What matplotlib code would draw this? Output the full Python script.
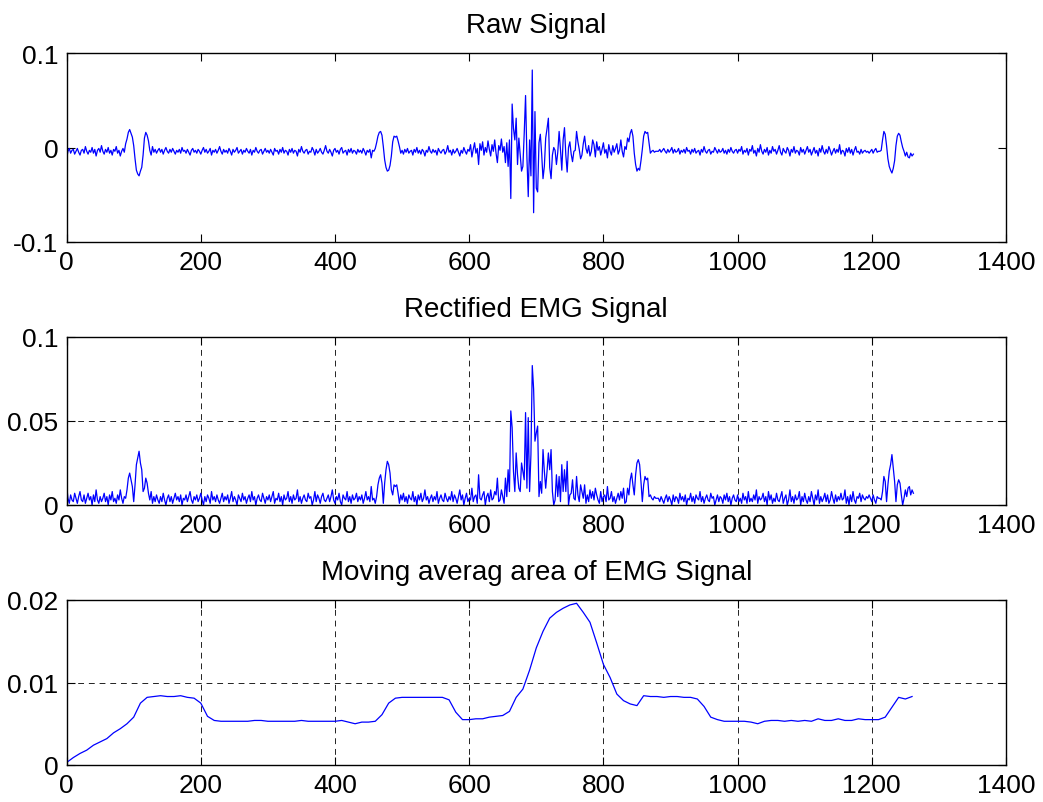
import matplotlib
matplotlib.use('Agg')
import matplotlib.pyplot as plt
import numpy as np

plt.rcParams['font.family'] = ['Liberation Sans', 'DejaVu Sans']
plt.rcParams['axes.unicode_minus'] = False

# raw EMG, one value every 2 samples, in units of 1e-3
RAW = [
    -12, -4, -1, -6, -3, -2, -7, -4, -1, -5, -8, -3, -2, -6, 1, -4, -7, -3, -5, 0, -6, -2, -9, -3, -1,
    -5, 2, -4, -7, -2, -5, 0, -6, -3, -8, -2, -4, 1, -6, -3, -9, -4, -1, -5, 4, 9, 16, 19, 15, 11,
    2, -12, -24, -28, -30, -25, -21, -8, 10, 16, 13, 7, -3, -8, 1, -5, -2, -6, -3, -1, -5, -2, -7, -3, 0,
    -4, -6, -2, -5, -1, -4, -7, -3, -5, -2, -6, 0, -4, -3, -6, -2, -5, -8, -3, -1, -5, -3, -6, -2, -4,
    -7, -3, 0, -5, -2, -6, -4, -1, -8, -3, -5, -2, -6, -3, 1, -4, -7, -2, -5, -3, -6, -1, -4, -8, -2,
    -5, -3, 0, -6, -4, -2, -7, -3, -5, -1, -4, -6, -2, -8, -3, -5, 0, -4, -6, -3, -2, -7, -4, -1, -5,
    -3, -6, -2, -5, -8, -1, -4, -3, -7, -2, -5, 0, -6, -3, -4, -8, -2, -5, -1, -6, -3, -4, -9, -2, -5,
    1, -4, -6, -3, -2, -7, -4, -5, 0, -3, -8, -2, -6, -4, -1, -5, -7, -3, 2, -4, -6, -2, -5, -9, -3,
    -1, -5, -3, -7, -2, 0, -6, -4, -3, -8, -2, -5, -1, -6, -3, -4, -7, -2, -5, -3, -6, -1, -4, -8, -3,
    -5, -2, -11, -3, -4, -1, 5, 12, 16, 17, 13, 1, -13, -21, -25, -24, -19, -9, 6, 12, 11, 12, 7, 1, -6,
    -3, -7, -2, -5, -1, -6, -4, -3, -8, -2, -5, 0, -6, -3, -7, -2, -4, -9, -3, -5, 1, -4, -6, -2, -5,
    -3, -8, -1, -4, -6, -3, -2, -7, -4, 2, -5, -3, -8, -2, -6, -4, -1, -5, -9, -3, -6, 0, -4, -7, -2,
    -4, 3, -10, -2, 5, -6, -1, -18, 4, -3, 6, -8, 0, -5, 7, -2, -9, 3, -4, 8, -6, -16, 2, -3, 9,
    -5, 1, -16, 5, -20, 8, -54, 46, 20, 8, 31, -18, 10, -8, -25, -20, 15, 55, -10, -52, 8, -30, 82, -69, 38,
    -43, -47, 5, 14, -7, -33, -20, 10, 20, 31, -21, -33, -8, 0, -3, -18, -5, 17, -2, -24, 8, 21, -8, -26, 0,
    6, -7, -15, -4, -3, 17, 6, -2, -12, -8, 4, 12, -1, -6, 2, -9, -4, 8, 3, -10, 6, -3, 1, -8, -2,
    5, -6, -2, -11, 3, -4, -8, 2, -5, -1, 4, -7, -3, 8, -4, -10, 1, -2, 10, 6, 15, 19, 12, -6, -18,
    -25, -22, -24, -14, -2, 12, 17, 15, 16, 5, -6, -4, -3, -5, -4, -4, -4, -2, -5, -3, -1, -4, -6, -2, -5,
    -3, 0, -6, -2, -5, -4, -1, -7, -3, -5, -2, -6, 0, -4, -3, -7, -2, -5, -1, -6, -4, -3, -8, -2, -5,
    1, -4, -6, -3, -2, -7, -4, -5, 0, -3, -6, -2, -5, -4, -1, -6, -3, -7, -2, -5, 0, -4, -6, -3, -2,
    -6, -2, -4, 1, -7, -3, -5, -1, -8, -2, -4, 2, -6, -3, -9, -1, -5, 3, -4, -7, -2, -5, 0, -8, -3,
    -6, 1, -4, -2, -7, -3, 2, -5, -8, -1, -4, -6, 0, -3, -9, -2, -5, 1, -6, -3, -4, -8, 0, -5, -2,
    -7, -3, 1, -5, -2, -8, -4, 0, -6, -3, -9, -1, -5, 2, -4, -7, -2, -6, 1, -3, -8, -4, -1, -6, -2,
    -5, 3, -7, -3, -4, -9, -1, -5, 0, -6, -2, -8, -3, 1, -5, -4, -7, -2, -6, -4, -3, -5, -4, -6, -4,
    -2, -6, -3, -1, -5, -4, -4, -3, 8, 17, 14, 2, -12, -20, -24, -27, -22, -14, 2, 12, 15, 13, 6, 0, -4,
    -9, -5, -10, -11, -6, -9, -7,
]

# rectified EMG, same sampling, units of 1e-3
RECT = [
    12, 4, 1, 6, 3, 2, 7, 4, 1, 5, 8, 3, 2, 6, 1, 4, 7, 3, 5, 0, 6, 2, 9, 3, 1,
    5, 2, 4, 7, 2, 5, 0, 6, 3, 8, 2, 4, 1, 6, 3, 9, 4, 1, 5, 4, 9, 16, 19, 15, 11,
    2, 12, 24, 28, 32, 25, 21, 8, 10, 16, 13, 7, 3, 8, 1, 5, 2, 6, 3, 1, 5, 2, 7, 3, 0,
    4, 6, 2, 5, 1, 4, 7, 3, 5, 2, 6, 0, 4, 3, 6, 2, 5, 8, 3, 1, 5, 3, 6, 2, 4,
    7, 3, 0, 5, 2, 6, 4, 1, 8, 3, 5, 2, 6, 3, 1, 4, 7, 2, 5, 3, 6, 1, 4, 8, 2,
    5, 3, 0, 6, 4, 2, 7, 3, 5, 1, 4, 6, 2, 8, 3, 5, 0, 4, 6, 3, 2, 7, 4, 1, 5,
    3, 6, 2, 5, 8, 1, 4, 3, 7, 2, 5, 0, 6, 3, 4, 8, 2, 5, 1, 6, 3, 4, 9, 2, 5,
    1, 4, 6, 3, 2, 7, 4, 5, 0, 3, 8, 2, 6, 4, 1, 5, 7, 3, 2, 4, 6, 2, 5, 9, 3,
    1, 5, 3, 7, 2, 0, 6, 4, 3, 8, 2, 5, 1, 6, 3, 4, 7, 2, 5, 3, 6, 1, 4, 8, 3,
    5, 2, 11, 3, 4, 1, 5, 12, 16, 18, 13, 1, 13, 21, 26, 24, 19, 9, 6, 12, 11, 12, 7, 1, 6,
    3, 7, 2, 5, 1, 6, 4, 3, 8, 2, 5, 0, 6, 3, 7, 2, 4, 9, 3, 5, 1, 4, 6, 2, 5,
    3, 8, 1, 4, 6, 3, 2, 7, 4, 2, 5, 3, 8, 2, 6, 4, 1, 5, 9, 3, 6, 0, 4, 7, 2,
    4, 3, 10, 2, 5, 6, 1, 18, 4, 3, 6, 8, 0, 5, 7, 2, 9, 3, 4, 8, 6, 16, 2, 3, 9,
    5, 1, 16, 5, 21, 8, 56, 46, 20, 8, 31, 18, 10, 8, 25, 20, 15, 55, 10, 52, 8, 30, 83, 69, 38,
    43, 47, 5, 14, 7, 33, 20, 10, 20, 31, 21, 33, 8, 0, 3, 18, 5, 17, 2, 24, 8, 21, 8, 26, 0,
    6, 7, 15, 4, 3, 17, 6, 2, 12, 8, 4, 12, 1, 6, 2, 9, 4, 8, 3, 10, 6, 3, 1, 8, 2,
    5, 6, 2, 11, 3, 4, 8, 2, 5, 1, 4, 7, 3, 8, 4, 10, 1, 2, 10, 6, 15, 19, 12, 6, 18,
    25, 27, 24, 14, 2, 12, 17, 15, 16, 5, 6, 4, 3, 5, 4, 4, 4, 2, 5, 3, 1, 4, 6, 2, 5,
    3, 0, 6, 2, 5, 4, 1, 7, 3, 5, 2, 6, 0, 4, 3, 7, 2, 5, 1, 6, 4, 3, 8, 2, 5,
    1, 4, 6, 3, 2, 7, 4, 5, 0, 3, 6, 2, 5, 4, 1, 6, 3, 7, 2, 5, 0, 4, 6, 3, 2,
    6, 2, 4, 1, 7, 3, 5, 1, 8, 2, 4, 2, 6, 3, 9, 1, 5, 3, 4, 7, 2, 5, 0, 8, 3,
    6, 1, 4, 2, 7, 3, 2, 5, 8, 1, 4, 6, 0, 3, 9, 2, 5, 1, 6, 3, 4, 8, 0, 5, 2,
    7, 3, 1, 5, 2, 8, 4, 0, 6, 3, 9, 1, 5, 2, 4, 7, 2, 6, 1, 3, 8, 4, 1, 6, 2,
    5, 3, 7, 3, 4, 9, 1, 5, 0, 6, 2, 8, 3, 1, 5, 4, 7, 2, 6, 4, 3, 5, 4, 6, 4,
    2, 6, 3, 1, 5, 4, 4, 3, 8, 17, 14, 2, 12, 20, 24, 30, 22, 14, 2, 12, 15, 13, 6, 0, 4,
    9, 5, 10, 11, 6, 9, 7,
]
RAW_STEP = 2

# moving average area, one value every 10 samples, units of 1e-3
MAVG = [
    0.3, 0.9, 1.4, 1.8, 2.4, 2.8, 3.2, 3.9, 4.4, 5.0, 5.8, 7.5, 8.2, 8.3, 8.4, 8.3, 8.3, 8.4, 8.2, 8.1,
    7.5, 5.9, 5.4, 5.3, 5.3, 5.3, 5.3, 5.3, 5.4, 5.4, 5.3, 5.3, 5.3, 5.3, 5.3, 5.4, 5.3, 5.3, 5.3, 5.3,
    5.3, 5.4, 5.2, 5.0, 5.2, 5.2, 5.3, 6.1, 7.5, 8.1, 8.2, 8.2, 8.2, 8.2, 8.2, 8.2, 8.2, 7.9, 6.4, 5.5,
    5.5, 5.6, 5.6, 5.8, 5.9, 6.0, 6.5, 8.2, 9.2, 11.5, 14.2, 16.2, 17.8, 18.5, 19.0, 19.4, 19.6, 18.5, 17.3, 14.8,
    12.2, 10.6, 8.6, 7.8, 7.4, 7.2, 8.4, 8.3, 8.3, 8.2, 8.3, 8.3, 8.2, 8.2, 8.0, 7.1, 5.8, 5.5, 5.3, 5.3,
    5.3, 5.3, 5.2, 5.0, 5.3, 5.4, 5.4, 5.3, 5.4, 5.3, 5.4, 5.3, 5.6, 5.4, 5.4, 5.6, 5.4, 5.4, 5.6, 5.5,
    5.5, 5.5, 5.8, 7.0, 8.2, 8.0, 8.3,
]
MAVG_STEP = 10

TITLES = ['Raw Signal', 'Rectified EMG Signal', 'Moving averag area of EMG Signal']
XTICKS = [0, 200, 400, 600, 800, 1000, 1200, 1400]
YTICKS = [[-0.1, 0, 0.1], [0, 0.05, 0.1], [0, 0.01, 0.02]]
YTICKLABELS = [['-0.1', '0', '0.1'], ['0', '0.05', '0.1'], ['0', '0.01', '0.02']]

FS = 19
FS_TITLE = 20
W, H = 1043, 803


def frac(left, top, right, bottom):
    return [left / W, 1 - bottom / H, (right - left) / W, (bottom - top) / H]


fig = plt.figure(figsize=(W / 100, H / 100), dpi=100)
ax1 = fig.add_axes(frac(66.6, 54, 1006, 243))
ax2 = fig.add_axes(frac(66.6, 338, 1006, 506))
ax3 = fig.add_axes(frac(66.6, 601, 1006, 766))

x_raw = np.arange(len(RAW)) * RAW_STEP
x_rect = np.arange(len(RECT)) * RAW_STEP
x_ma = np.arange(len(MAVG)) * MAVG_STEP

ax1.plot(x_raw, np.array(RAW) * 1e-3, color='#0000ff', lw=0.9)
ax2.plot(x_rect, np.array(RECT) * 1e-3, color='#0000ff', lw=0.9)
ax3.plot(x_ma, np.array(MAVG) * 1e-3, color='#0000ff', lw=0.9)

for i, ax in enumerate([ax1, ax2, ax3]):
    ax.set_xlim(0, 1400)
    ax.set_ylim(YTICKS[i][0], YTICKS[i][-1])
    ax.set_xticks(XTICKS)
    ax.set_xticklabels([str(t) for t in XTICKS])
    ax.set_yticks(YTICKS[i])
    ax.set_yticklabels(YTICKLABELS[i])
    ax.tick_params(direction='in', top=True, right=True, length=6, width=0.8,
                   labelsize=FS, pad=6)
    for s in ax.spines.values():
        s.set_linewidth(1.0)
    ax.set_title(TITLES[i], fontsize=FS_TITLE, pad=15)
    if i > 0:
        ax.grid(True, color='#222222', linestyle=(0, (6, 5)), linewidth=0.7)

fig.savefig('out.png', dpi=100)
